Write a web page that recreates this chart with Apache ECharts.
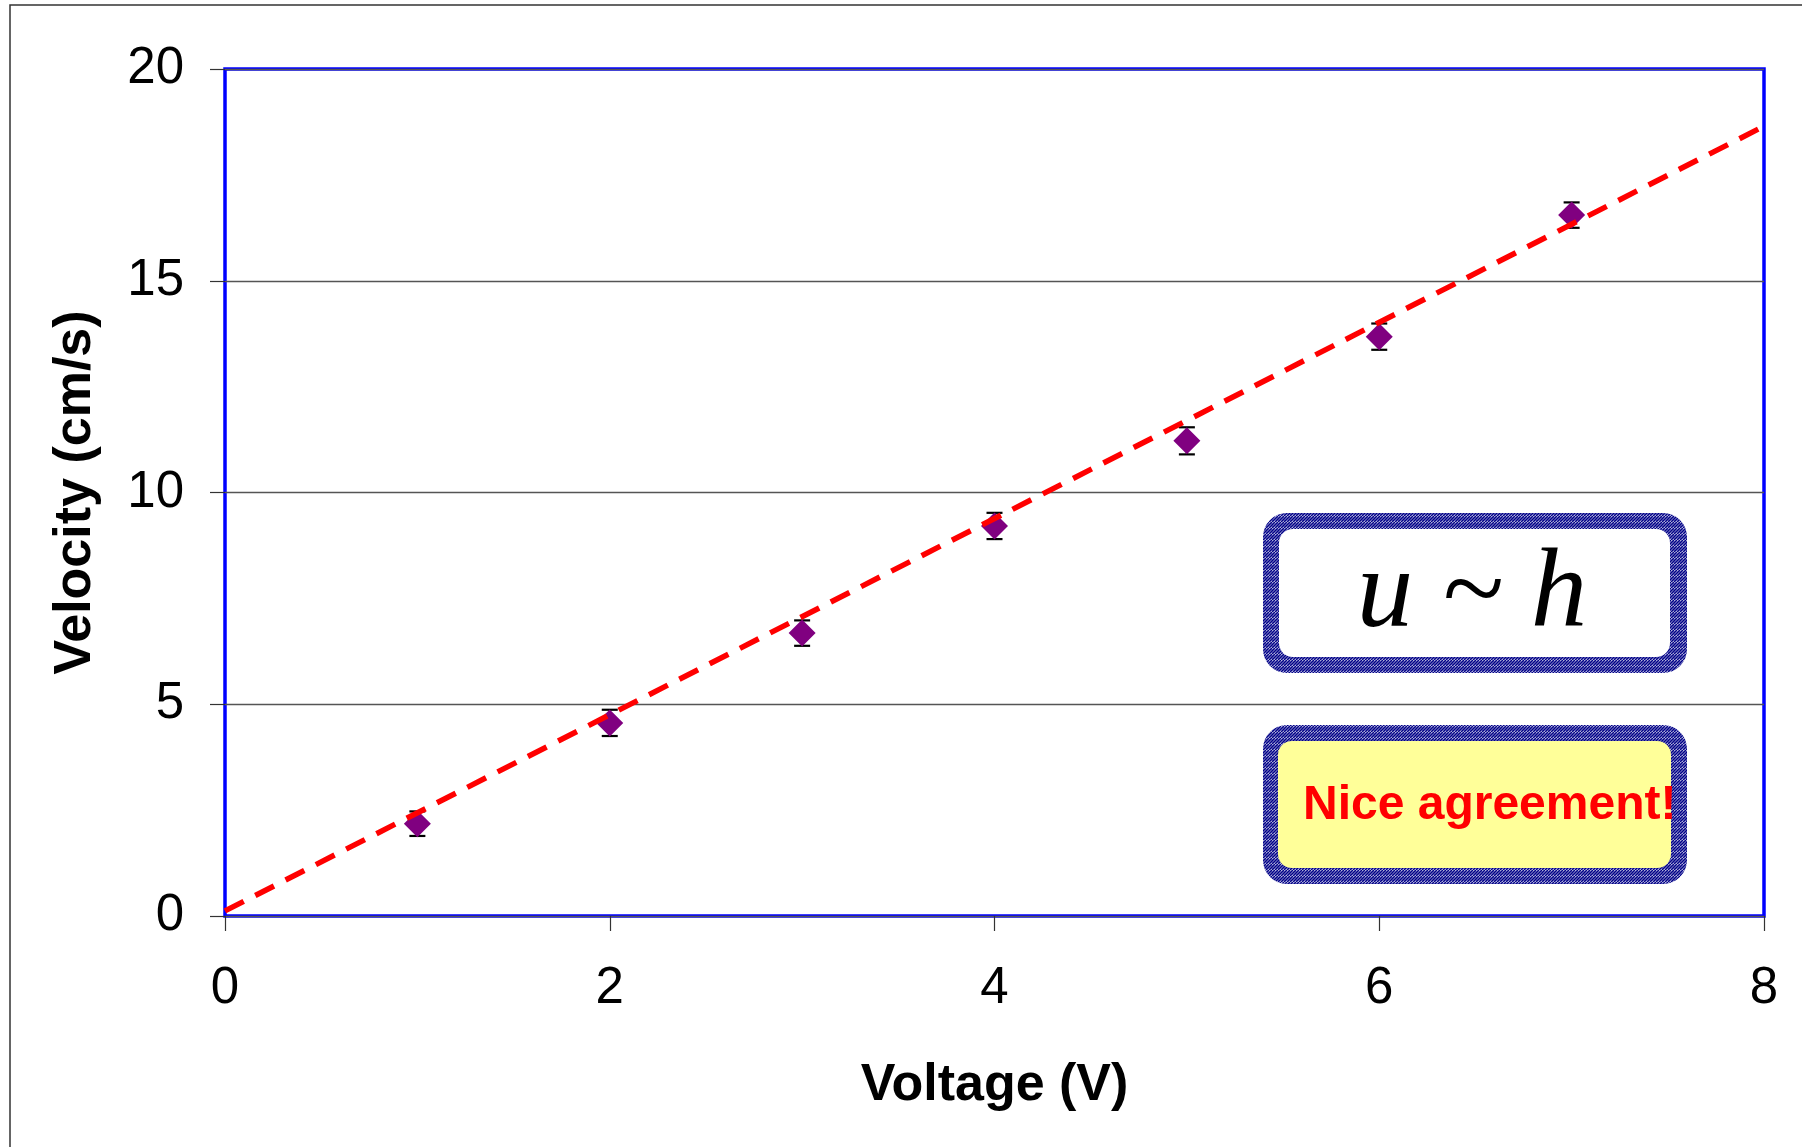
<!DOCTYPE html>
<html><head><meta charset="utf-8">
<script src="https://cdn.jsdelivr.net/npm/echarts@6/dist/echarts.min.js"></script>
<style>html,body{margin:0;padding:0;background:#fff}#c{width:1802px;height:1147px}</style>
</head><body><div id="c"></div>
<script>
const voltage = [1, 2, 3, 4, 5, 6, 7];
const velocity = [2.18, 4.56, 6.68, 9.21, 11.22, 13.68, 16.55];
const velocityErr = [0.29, 0.31, 0.30, 0.31, 0.32, 0.31, 0.30];
const fitX = [0, 8];
const fitY = [0.12, 18.65];
const xTickLabels = ['0', '2', '4', '6', '8'];
const yTickLabels = ['0', '5', '10', '15', '20'];
const xTitle = 'Voltage (V)';
const yTitle = 'Velocity (cm/s)';
const formulaText = 'u ~ h';
const noteText = 'Nice agreement!';

const FONT = "'Liberation Sans', Arial, sans-serif";

function makeHatch() {
  const c = document.createElement('canvas');
  c.width = 6; c.height = 6;
  const g = c.getContext('2d');
  g.fillStyle = '#ffffff'; g.fillRect(0, 0, 6, 6);
  g.strokeStyle = '#000088'; g.lineWidth = 1.6;
  for (let k = -3; k <= 4; k++) {
    g.beginPath();
    g.moveTo(k * 3, 6); g.lineTo(k * 3 + 6, 0);
    g.stroke();
  }
  return c;
}
const hatch = { type: 'pattern', image: makeHatch(), repeat: 'repeat' };

const chart = echarts.init(document.getElementById('c'), null, { renderer: 'canvas' });
const points = voltage.map((v, i) => [v, velocity[i]]);
const errData = voltage.map((v, i) => [v, velocity[i] - velocityErr[i], velocity[i] + velocityErr[i]]);
const fitData = fitX.map((v, i) => [v, fitY[i]]);

chart.setOption({
  animation: false,
  backgroundColor: '#ffffff',
  grid: { left: 225, top: 69, right: 38, bottom: 231, show: true, borderColor: '#0000ff', borderWidth: 3.5, backgroundColor: 'transparent' },
  xAxis: {
    type: 'value', min: 0, max: 8, interval: 2,
    name: xTitle, nameLocation: 'middle', nameGap: 144,
    nameTextStyle: { fontFamily: FONT, fontSize: 52, fontWeight: 'bold', color: '#000' },
    axisLine: { show: false },
    axisTick: { show: true, length: 15, lineStyle: { color: '#333', width: 1.2 } },
    splitLine: { show: false },
    axisLabel: {
      margin: 73, verticalAlign: 'middle', fontFamily: FONT, fontSize: 51, color: '#000',
      formatter: (v) => xTickLabels[Math.round(v / 2)]
    }
  },
  yAxis: {
    type: 'value', min: 0, max: 20, interval: 5,
    name: yTitle, nameLocation: 'middle', nameGap: 123, nameRotate: 90,
    nameTextStyle: { fontFamily: FONT, fontSize: 52, fontWeight: 'bold', color: '#000' },
    axisLine: { show: false },
    axisTick: { show: true, length: 15, lineStyle: { color: '#333', width: 1.2 } },
    splitLine: { show: true, lineStyle: { color: '#555', width: 1.3 } },
    axisLabel: {
      margin: 41, fontFamily: FONT, fontSize: 51, color: '#000',
      formatter: (v) => yTickLabels[Math.round(v / 5)]
    }
  },
  series: [
    {
      type: 'custom', z: 2,
      renderItem: function (params, api) {
        const x = api.value(0);
        const lo = api.coord([x, api.value(1)]);
        const hi = api.coord([x, api.value(2)]);
        const w = 8;
        const st = { stroke: '#000', lineWidth: 2.2 };
        return {
          type: 'group', children: [
            { type: 'line', shape: { x1: lo[0], y1: lo[1], x2: hi[0], y2: hi[1] }, style: st },
            { type: 'line', shape: { x1: lo[0] - w, y1: lo[1], x2: lo[0] + w, y2: lo[1] }, style: st },
            { type: 'line', shape: { x1: hi[0] - w, y1: hi[1], x2: hi[0] + w, y2: hi[1] }, style: st }
          ]
        };
      },
      encode: { x: 0, y: [1, 2] },
      data: errData
    },
    {
      type: 'scatter', z: 3, symbol: 'diamond', symbolSize: [27, 27],
      itemStyle: { color: '#800080', opacity: 1 },
      data: points
    },
    {
      type: 'line', z: 4, symbol: 'none', showSymbol: false,
      lineStyle: { color: '#ff0000', width: 5.5, type: [21, 13] },
      data: fitData
    }
  ],
  graphic: [
    { type: 'rect', z: 0, silent: true, shape: { x: 10, y: 5, width: 1820, height: 1170 }, style: { fill: 'none', stroke: '#333', lineWidth: 1.5 } },
    { type: 'rect', z: 10, shape: { x: 1263, y: 513, width: 424, height: 160, r: 24 }, style: { fill: hatch } },
    { type: 'rect', z: 11, shape: { x: 1279, y: 529, width: 391, height: 128, r: 14 }, style: { fill: '#ffffff' } },
    { type: 'text', z: 12, x: 1472, y: 596, style: { text: formulaText, fontFamily: "'Liberation Serif', 'Times New Roman', serif", fontStyle: 'italic', fontSize: 113, fill: '#000', align: 'center', verticalAlign: 'middle' } },
    { type: 'rect', z: 10, shape: { x: 1263, y: 725, width: 424, height: 159, r: 24 }, style: { fill: hatch } },
    { type: 'rect', z: 11, shape: { x: 1278, y: 741, width: 393, height: 127, r: 14 }, style: { fill: '#ffff99' } },
    { type: 'text', z: 12, x: 1303, y: 806, style: { text: noteText, fontFamily: FONT, fontWeight: 'bold', fontSize: 48, fill: '#ff0000', align: 'left', verticalAlign: 'middle' } }
  ]
});
</script></body></html>
